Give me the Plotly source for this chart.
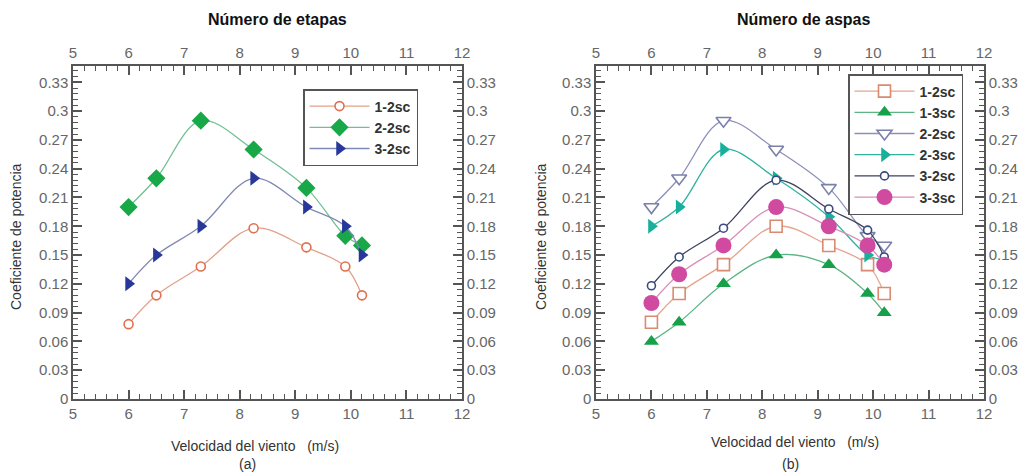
import plotly.graph_objects as go

# ---------------- data ----------------
speed = [6.0, 6.5, 7.3, 8.25, 9.2, 9.9, 10.2]

# (a) Número de etapas
etapas_12 = [0.078, 0.108, 0.138, 0.178, 0.158, 0.138, 0.108]
etapas_22 = [0.20, 0.23, 0.29, 0.26, 0.22, 0.17, 0.16]
etapas_32 = [0.12, 0.15, 0.18, 0.23, 0.20, 0.18, 0.15]

# (b) Número de aspas
aspas_12 = [0.08, 0.11, 0.14, 0.18, 0.16, 0.14, 0.11]
aspas_13 = [0.06, 0.08, 0.12, 0.15, 0.14, 0.11, 0.09]
aspas_22 = [0.20, 0.23, 0.29, 0.26, 0.22, 0.17, 0.16]
aspas_23 = [0.18, 0.20, 0.26, 0.23, 0.19, 0.15, 0.145]
aspas_32 = [0.118, 0.148, 0.178, 0.228, 0.198, 0.176, 0.148]
aspas_33 = [0.10, 0.13, 0.16, 0.20, 0.18, 0.16, 0.14]

x_ticks = [5, 6, 7, 8, 9, 10, 11, 12]
y_ticks = [0, 0.03, 0.06, 0.09, 0.12, 0.15, 0.18, 0.21, 0.24, 0.27, 0.3, 0.33]
y_tick_text = ["0", "0.03", "0.06", "0.09", "0.12", "0.15", "0.18", "0.21", "0.24", "0.27", "0.3", "0.33"]

FONT = "Liberation Sans, Arial, sans-serif"
W, H = 1031, 475

fig = go.Figure()

def add_series(y, name, xa, ya, legend, line_color, marker_color, symbol, size, open_=False):
    marker = dict(symbol=symbol, size=size, color=("white" if open_ else marker_color),
                  line=dict(color=marker_color, width=1.6 if open_ else 0))
    fig.add_trace(go.Scatter(x=speed, y=y, name=name, mode="lines+markers",
                             line=dict(color=line_color, width=1.3, shape="spline", smoothing=1.0),
                             marker=marker, xaxis=xa, yaxis=ya, legend=legend))

# panel (a)
add_series(etapas_12, "1-2sc", "x", "y", "legend", "#e3a08a", "#e0704f", "circle", 9, open_=True)
add_series(etapas_22, "2-2sc", "x", "y", "legend", "#72bf92", "#18a848", "diamond", 14)
add_series(etapas_32, "3-2sc", "x", "y", "legend", "#8089b3", "#27389a", "triangle-right", 13)

# panel (b)
add_series(aspas_12, "1-2sc", "x2", "y2", "legend2", "#e5a48e", "#d98a70", "square", 12, open_=True)
add_series(aspas_13, "1-3sc", "x2", "y2", "legend2", "#5bb585", "#16a04a", "triangle-up", 13)
add_series(aspas_22, "2-2sc", "x2", "y2", "legend2", "#8b90b8", "#7a80aa", "triangle-down", 13, open_=True)
add_series(aspas_23, "2-3sc", "x2", "y2", "legend2", "#2fb3a0", "#16b09c", "triangle-right", 13)
add_series(aspas_32, "3-2sc", "x2", "y2", "legend2", "#3c4260", "#3b4a80", "circle", 8, open_=True)
add_series(aspas_33, "3-3sc", "x2", "y2", "legend2", "#d98fb8", "#d04aa0", "circle", 16)

# invisible traces to show top / right overlay axes
for xa, ya in (("x3", "y3"), ("x4", "y4")):
    fig.add_trace(go.Scatter(x=[5, 12], y=[0, 0.33], mode="markers", marker=dict(opacity=0),
                             showlegend=False, hoverinfo="skip", xaxis=xa, yaxis=ya))

AX = "#555555"
TICKF = dict(family=FONT, size=15, color="#666666")

def xaxis_cfg(domain, anchor, side, overlaying=None):
    d = dict(domain=domain, anchor=anchor, side=side, range=[5, 12], tickvals=x_ticks,
             ticks="inside", ticklen=9, tickwidth=1.5, tickcolor=AX,
             minor=dict(ticks="inside", ticklen=5, dtick=0.2, tick0=5, tickcolor=AX, tickwidth=1.2),
             showline=True, linecolor=AX, linewidth=1.5, showgrid=False, zeroline=False,
             tickfont=TICKF, fixedrange=True, automargin=False)
    if overlaying:
        d["overlaying"] = overlaying
    return d

def yaxis_cfg(domain, anchor, side, overlaying=None):
    d = dict(domain=domain, anchor=anchor, side=side, range=[0, 0.347], tickvals=y_ticks,
             ticktext=y_tick_text, ticks="inside", ticklen=9, tickwidth=1.5, tickcolor=AX,
             minor=dict(ticks="inside", ticklen=5, dtick=0.006, tick0=0, tickcolor=AX, tickwidth=1.2),
             showline=True, linecolor=AX, linewidth=1.5, showgrid=False, zeroline=False,
             tickfont=TICKF, fixedrange=True, automargin=False)
    if overlaying:
        d["overlaying"] = overlaying
    return d

ydom = [1 - 399 / H, 1 - 66 / H]
xdomA = [73 / W, 462 / W]
xdomB = [596 / W, 984 / W]

legend_common = dict(bgcolor="white", bordercolor="#555555", borderwidth=1.5,
                     font=dict(family=FONT, size=14, color="#333333", weight="bold"),
                     xanchor="left", yanchor="top", itemwidth=60, tracegroupgap=0)

fig.update_layout(
    width=W, height=H, margin=dict(l=0, r=0, t=0, b=0, autoexpand=False),
    paper_bgcolor="white", plot_bgcolor="white",
    xaxis=xaxis_cfg(xdomA, "y", "bottom"),
    yaxis=yaxis_cfg(ydom, "x", "left"),
    xaxis3=xaxis_cfg(xdomA, "y", "top", overlaying="x"),
    yaxis3=yaxis_cfg(ydom, "x", "right", overlaying="y"),
    xaxis2=xaxis_cfg(xdomB, "y2", "bottom"),
    yaxis2=yaxis_cfg(ydom, "x2", "left"),
    xaxis4=xaxis_cfg(xdomB, "y2", "top", overlaying="x2"),
    yaxis4=yaxis_cfg(ydom, "x2", "right", overlaying="y2"),
    legend=dict(x=303 / W, y=1 - 89 / H, **legend_common),
    legend2=dict(x=848 / W, y=1 - 74 / H, **legend_common),
    showlegend=True,
)

def ann(text, x, y, size=14, bold=False, angle=0, color="#333333"):
    fig.add_annotation(text=text, x=x, y=y, xref="paper", yref="paper", showarrow=False,
                       textangle=angle, xanchor="center", yanchor="middle",
                       font=dict(family=FONT, size=size, color=color, weight="bold" if bold else "normal"))

ann("Número de etapas", 277 / W, 1 - 19 / H, size=16, bold=True, color="#111111")
ann("Número de aspas", 803 / W, 1 - 19 / H, size=16, bold=True, color="#111111")
ann("Velocidad del viento   (m/s)", 255 / W, 1 - 446 / H, size=14)
ann("Velocidad del viento   (m/s)", 795 / W, 1 - 442 / H, size=14)
ann("Coeficiente de potencia", 16 / W, 1 - 237 / H, size=14, angle=-90)
ann("Coeficiente de potencia", 541 / W, 1 - 237 / H, size=14, angle=-90)
ann("(a)", 247 / W, 1 - 464 / H, size=14)
ann("(b)", 790 / W, 1 - 464 / H, size=14)

fig.write_html("out.html", config={"displayModeBar": False},
               post_script="document.body.style.margin='0';document.body.style.overflow='hidden';")
